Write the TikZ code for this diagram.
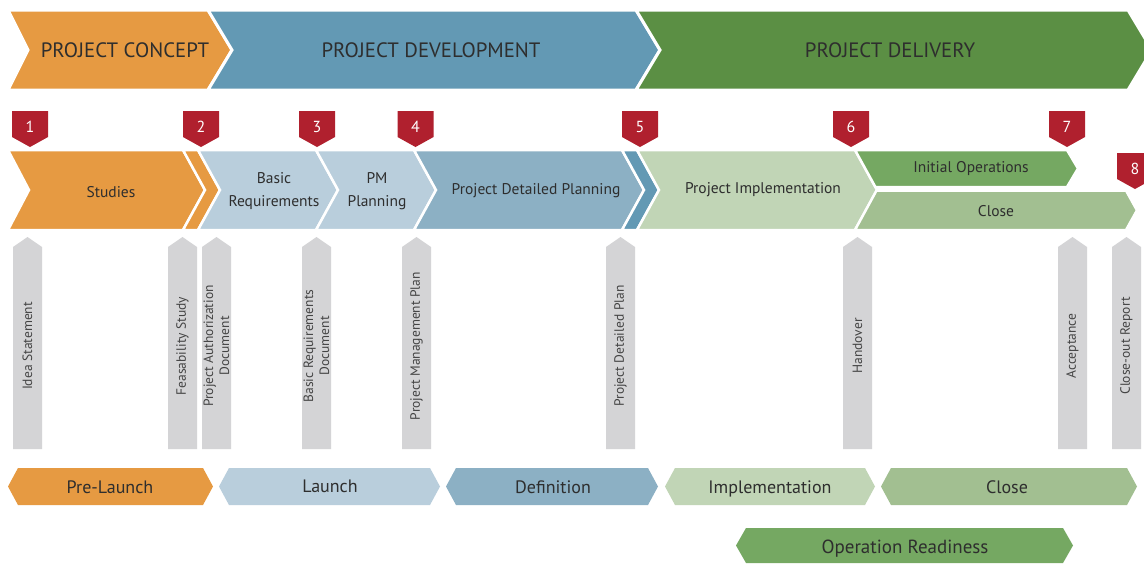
\documentclass[tikz,border=0pt]{standalone}
\usepackage{fontspec}
\setmainfont{PT Sans}
\definecolor{cOrange}{HTML}{E69A42}
\definecolor{cBlue}{HTML}{6399B4}
\definecolor{cGreen}{HTML}{5B8F44}
\definecolor{cLBlue}{HTML}{B9CEDC}
\definecolor{cMBlue}{HTML}{8CB0C4}
\definecolor{cLGreen}{HTML}{C1D5B6}
\definecolor{cMGreen}{HTML}{75A862}
\definecolor{cCGreen}{HTML}{A2BF91}
\definecolor{cRed}{HTML}{B0202E}
\definecolor{cGray}{HTML}{D4D4D6}
\definecolor{cTxt}{HTML}{2E2E2E}
\definecolor{cTxtG}{HTML}{444444}
\tikzset{
  bandshape/.style={draw=white, line width=3pt, line join=miter},
  rowshape/.style={draw=white, line width=2.5pt, line join=miter},
  grayarrow/.style={fill=cGray, draw=none},
  markershape/.style={fill=cRed, draw=none},
  bandtext/.style={text=cTxt, font=\fontsize{20.8}{24}\selectfont, inner sep=0pt, anchor=base},
  rowtext/.style={text=cTxt, font=\fontsize{15.5}{23}\selectfont, align=center, inner sep=0pt},
  hextext/.style={text=cTxt, font=\fontsize{18}{21}\selectfont, inner sep=0pt, anchor=base},
  doctext/.style={text=cTxtG, font=\fontsize{13.5}{16}\selectfont, align=center, rotate=90, inner sep=0pt},
  marktext/.style={text=white, font=\fontsize{16}{19}\selectfont, inner sep=0pt},
}
\begin{document}
\begin{tikzpicture}[x=1pt,y=-1pt]
\useasboundingbox (0,0) rectangle (1144,563);
\clip (0,0) rectangle (1144,563);
\fill[white] (0,0) rectangle (1144,563);

% ---------- top band ----------
\filldraw[bandshape, fill=cOrange] (8,10) -- (208,10) -- (232,50) -- (208,90) -- (8,90) -- (28,50) -- cycle;
\filldraw[bandshape, fill=cBlue] (208,10) -- (636,10) -- (660,50) -- (636,90) -- (208,90) -- (232,50) -- cycle;
\filldraw[bandshape, fill=cGreen] (636,10) -- (1128,10) -- (1152,50) -- (1128,90) -- (636,90) -- (660,50) -- cycle;
\node[bandtext] (concept) at (125,57.5) {PROJECT CONCEPT};
\node[bandtext] (development) at (431,57.5) {PROJECT DEVELOPMENT};
\node[bandtext] (delivery) at (890,57.5) {PROJECT DELIVERY};

% ---------- middle row ----------
\filldraw[rowshape, fill=cOrange] (8,150) -- (183,150) -- (205,190) -- (183,230) -- (8,230) -- (29,190) -- cycle;
\filldraw[rowshape, fill=cOrange] (183,150) -- (198,150) -- (220,190) -- (198,230) -- (183,230) -- (205,190) -- cycle;
\filldraw[rowshape, fill=cLBlue] (198,150) -- (316,150) -- (338,190) -- (316,230) -- (198,230) -- (220,190) -- cycle;
\filldraw[rowshape, fill=cLBlue] (316,150) -- (414,150) -- (436,190) -- (414,230) -- (316,230) -- (338,190) -- cycle;
\filldraw[rowshape, fill=cMBlue] (414,150) -- (622,150) -- (644,190) -- (622,230) -- (414,230) -- (436,190) -- cycle;
\filldraw[rowshape, fill=cBlue] (622,150) -- (637,150) -- (659,190) -- (637,230) -- (622,230) -- (644,190) -- cycle;
\filldraw[rowshape, fill=cLGreen] (637,150) -- (855,150) -- (877,190) -- (855,230) -- (637,230) -- (659,190) -- cycle;
\filldraw[rowshape, fill=cMGreen] (855,150) -- (1067,150) -- (1078,168.5) -- (1067,187) -- (875.4,187) -- cycle;
\filldraw[rowshape, fill=cCGreen] (876.5,190.5) -- (1126,190.5) -- (1137,210.3) -- (1126,230) -- (855,230) -- cycle;

\node[rowtext] (studies) at (111,192.5) {Studies};
\node[rowtext] (basicreq) at (274,191.5) {Basic\\Requirements};
\node[rowtext] (pmplan) at (377,191.5) {PM\\Planning};
\node[rowtext] (detplan) at (536,191) {Project Detailed Planning};
\node[rowtext] (impl) at (763,190) {Project Implementation};
\node[rowtext] (initops) at (971,169) {Initial Operations};
\node[rowtext] (close) at (996,211) {Close};

% ---------- milestone markers ----------
\foreach \n/\c in {1/30,2/201,3/317,4/415.5,5/640,6/851,7/1067}{
  \fill[markershape] (\c-18,111) -- (\c+18,111) -- (\c+18,137) -- (\c,147) -- (\c-18,137) -- cycle;
  \node[marktext] (m\n) at (\c,127) {\n};
}
\fill[markershape] (1117,153) -- (1153,153) -- (1153,179) -- (1135,189) -- (1117,179) -- cycle;
\node[marktext] (m8) at (1135,169) {8};

% ---------- deliverable arrows ----------
\foreach \name/\a/\b in {idea/13/42, feas/168/197, auth/202/231, brd/302/331, pmp/402/431, pdp/606/635, hand/843/872, acc/1058/1087, cor/1112/1141}{
  \fill[grayarrow] (\a,449) -- (\a,247) -- ({(\a+\b)/2},237) -- (\b,247) -- (\b,449) -- cycle;
}
\node[doctext] (tIdea) at (27.5,346) {Idea Statement};
\node[doctext] (tFeas) at (182.5,346) {Feasability Study};
\node[doctext] (tAuth) at (216.5,346) {Project Authorization\\Document};
\node[doctext] (tBrd) at (316.5,346) {Basic Requirements\\Document};
\node[doctext] (tPmp) at (416.5,346) {Project Management Plan};
\node[doctext] (tPdp) at (620.5,346) {Project Detailed Plan};
\node[doctext] (tHand) at (857.5,346) {Handover};
\node[doctext] (tAcc) at (1072.5,346) {Acceptance};
\node[doctext] (tCor) at (1126.5,346) {Close-out Report};

% ---------- bottom phases ----------
\fill[fill=cOrange] (8,486.5) -- (18,468) -- (203,468) -- (213,486.5) -- (203,505) -- (18,505) -- cycle;
\fill[fill=cLBlue] (219,486.5) -- (229,468) -- (430,468) -- (440,486.5) -- (430,505) -- (229,505) -- cycle;
\fill[fill=cMBlue] (446,486.5) -- (456,468) -- (648,468) -- (658,486.5) -- (648,505) -- (456,505) -- cycle;
\fill[fill=cLGreen] (665,486.5) -- (675,468) -- (865,468) -- (875,486.5) -- (865,505) -- (675,505) -- cycle;
\fill[fill=cCGreen] (881,486.5) -- (891,468) -- (1127,468) -- (1137,486.5) -- (1127,505) -- (891,505) -- cycle;
\fill[fill=cMGreen] (736,545.5) -- (746,528) -- (1063,528) -- (1073,545.5) -- (1063,563) -- (746,563) -- cycle;
\node[hextext] (prelaunch) at (110,493.5) {Pre-Launch};
\node[hextext] (launch) at (330,492.5) {Launch};
\node[hextext] (definition) at (553,493.5) {Definition};
\node[hextext] (implementation) at (770,493.5) {Implementation};
\node[hextext] (closeph) at (1007,493.5) {Close};
\node[hextext, font=\fontsize{19}{22}\selectfont] (opready) at (905,553) {Operation Readiness};
\end{tikzpicture}
\end{document}
